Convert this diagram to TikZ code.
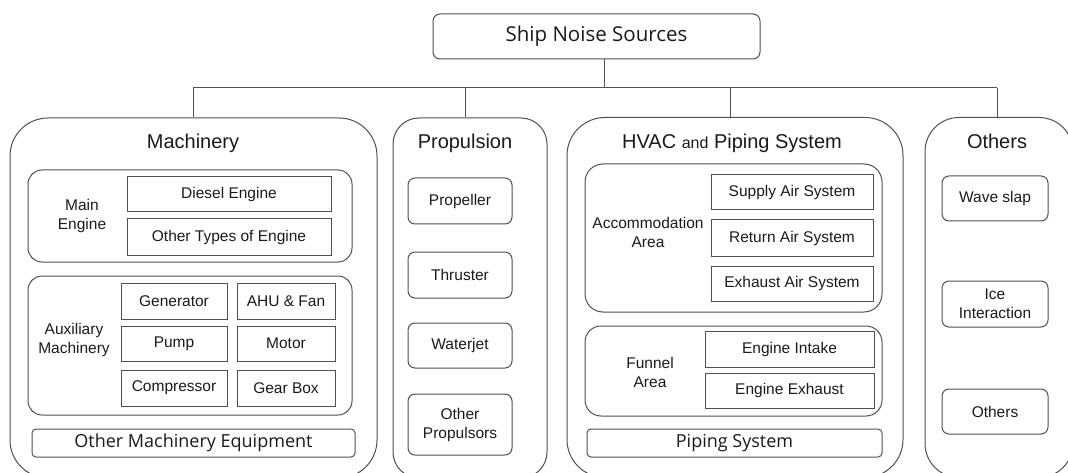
\documentclass[tikz,border=0pt]{standalone}
\usepackage{fontspec}
\setmainfont{Liberation Sans}
\newfontfamily\segoe{Open Sans}
\definecolor{lc}{HTML}{505050}
\definecolor{tc}{HTML}{1A1A1A}
\begin{document}
\begin{tikzpicture}[x=1pt,y=-1pt,
  every node/.style={text=tc},
  bigbox/.style={draw=lc, line width=1pt, rounded corners=38pt, inner sep=0},
  grpbox/.style={draw=lc, line width=1pt, rounded corners=14pt, inner sep=0},
  sqitem/.style={draw=lc, line width=1pt, inner sep=0, align=center, font=\fontsize{15.5}{19}\selectfont},
  rditem/.style={sqitem, rounded corners=7pt},
  wideitem/.style={draw=lc, line width=1pt, rounded corners=4pt, inner sep=0, font=\segoe\fontsize{18}{20}\selectfont},
  title/.style={inner sep=0, font=\fontsize{20}{24}\selectfont},
  lbl/.style={inner sep=0, align=center, font=\fontsize{15.5}{19}\selectfont},
  conn/.style={draw=lc, line width=1pt}]
\useasboundingbox (0,0) rectangle (1068,473);
\clip (0,0) rectangle (1068,473);

% top
\node[draw=lc, line width=1pt, rounded corners=7pt, minimum width=327pt, minimum height=45pt, inner sep=0,
  font=\segoe\fontsize{20.5}{24}\selectfont] (top) at (596.5,36.5) {Ship Noise Sources};

% big boxes
\node[bigbox, minimum width=367pt, minimum height=360pt] (mach) at (193.5,298) {};
\node[bigbox, rounded corners=26pt, minimum width=154pt, minimum height=360pt] (prop) at (470,298) {};
\node[bigbox, minimum width=336pt, minimum height=360pt] (hvac) at (735,297.5) {};
\node[bigbox, rounded corners=34pt, minimum width=148pt, minimum height=360pt] (oth) at (999,297.5) {};

% connectors
\coordinate (busL) at (193,88);
\coordinate (busR) at (997,88);
\draw[conn] (busL) -- (busR);
\draw[conn] ([xshift=8pt]top.south) -- ([xshift=8pt]top.south |- busL);
\draw[conn] (mach.north) -- (mach.north |- busL);
\draw[conn] ([xshift=-5pt]prop.north) -- ([xshift=-5pt]prop.north |- busL);
\draw[conn] ([xshift=-5pt]hvac.north) -- ([xshift=-5pt]hvac.north |- busL);
\draw[conn] ([xshift=-2pt]oth.north) -- ([xshift=-2pt]oth.north |- busL);

% titles
\node[title] (tmach) at (193,143) {Machinery};
\node[title] (tprop) at (465,143) {Propulsion};
\node[title] (thvac) at (732,143) {HVAC {\fontsize{16}{19}\selectfont and} Piping System};
\node[title] (toth) at (997,141) {Others};

% Machinery
\node[grpbox, minimum width=324pt, minimum height=92pt] (mainE) at (190,216) {};
\node[lbl] (mainEl) at (82,216) {Main\\Engine};
\node[sqitem, minimum width=204pt, minimum height=35pt] (diesel) at (229,194.5) {Diesel Engine};
\node[sqitem, minimum width=204pt, minimum height=36pt] (othE) at (229,237) {Other Types of Engine};

\node[grpbox, minimum width=324pt, minimum height=139pt] (aux) at (190,345.5) {};
\node[lbl] (auxl) at (74,340) {Auxiliary\\Machinery};
\node[sqitem, minimum width=106pt, minimum height=36pt] (gen) at (174,301) {Generator};
\node[sqitem, minimum width=98pt, minimum height=36pt] (ahu) at (286,301) {AHU \& Fan};
\node[sqitem, minimum width=106pt, minimum height=35pt] (pump) at (174,343.5) {Pump};
\node[sqitem, minimum width=98pt, minimum height=35pt] (motor) at (286,343.5) {Motor};
\node[sqitem, minimum width=106pt, minimum height=36pt] (comp) at (174,388) {Compressor};
\node[sqitem, minimum width=98pt, minimum height=36pt] (gear) at (286,388) {Gear Box};

\node[wideitem, minimum width=323pt, minimum height=28pt] (ome) at (193.5,443) {Other Machinery Equipment};

% Propulsion
\node[rditem, minimum width=104pt, minimum height=46pt] (propeller) at (460,201) {Propeller};
\node[rditem, minimum width=104pt, minimum height=46pt] (thruster) at (460,275) {Thruster};
\node[rditem, minimum width=104pt, minimum height=45pt] (waterjet) at (460,345.5) {Waterjet};
\node[rditem, minimum width=104pt, minimum height=61pt] (othprop) at (460,424.5) {Other\\Propulsors};

% HVAC
\node[grpbox, rounded corners=18pt, minimum width=297pt, minimum height=148pt] (accom) at (733.5,238) {};
\node[lbl] (accoml) at (648,232) {Accommodation\\Area};
\node[sqitem, minimum width=162pt, minimum height=35pt] (supply) at (792,192.5) {Supply Air System};
\node[sqitem, minimum width=162pt, minimum height=36pt] (return) at (792,238) {Return Air System};
\node[sqitem, minimum width=162pt, minimum height=35pt] (exhaust) at (792,283.5) {Exhaust Air System};

\node[grpbox, rounded corners=16pt, minimum width=297pt, minimum height=90pt] (funnel) at (733.5,371) {};
\node[lbl] (funnell) at (650,372) {Funnel\\Area};
\node[sqitem, minimum width=169pt, minimum height=36pt] (intake) at (789.5,349) {Engine Intake};
\node[sqitem, minimum width=169pt, minimum height=35pt] (eexh) at (789.5,390.5) {Engine Exhaust};

\node[wideitem, minimum width=295pt, minimum height=28pt] (piping) at (734.5,443) {Piping System};

% Others
\node[rditem, minimum width=106pt, minimum height=45pt] (wave) at (995,198.5) {Wave slap};
\node[rditem, minimum width=106pt, minimum height=46pt] (ice) at (995,304) {Ice\\Interaction};
\node[rditem, minimum width=106pt, minimum height=45pt] (oothers) at (995,411.5) {Others};
\end{tikzpicture}
\end{document}
